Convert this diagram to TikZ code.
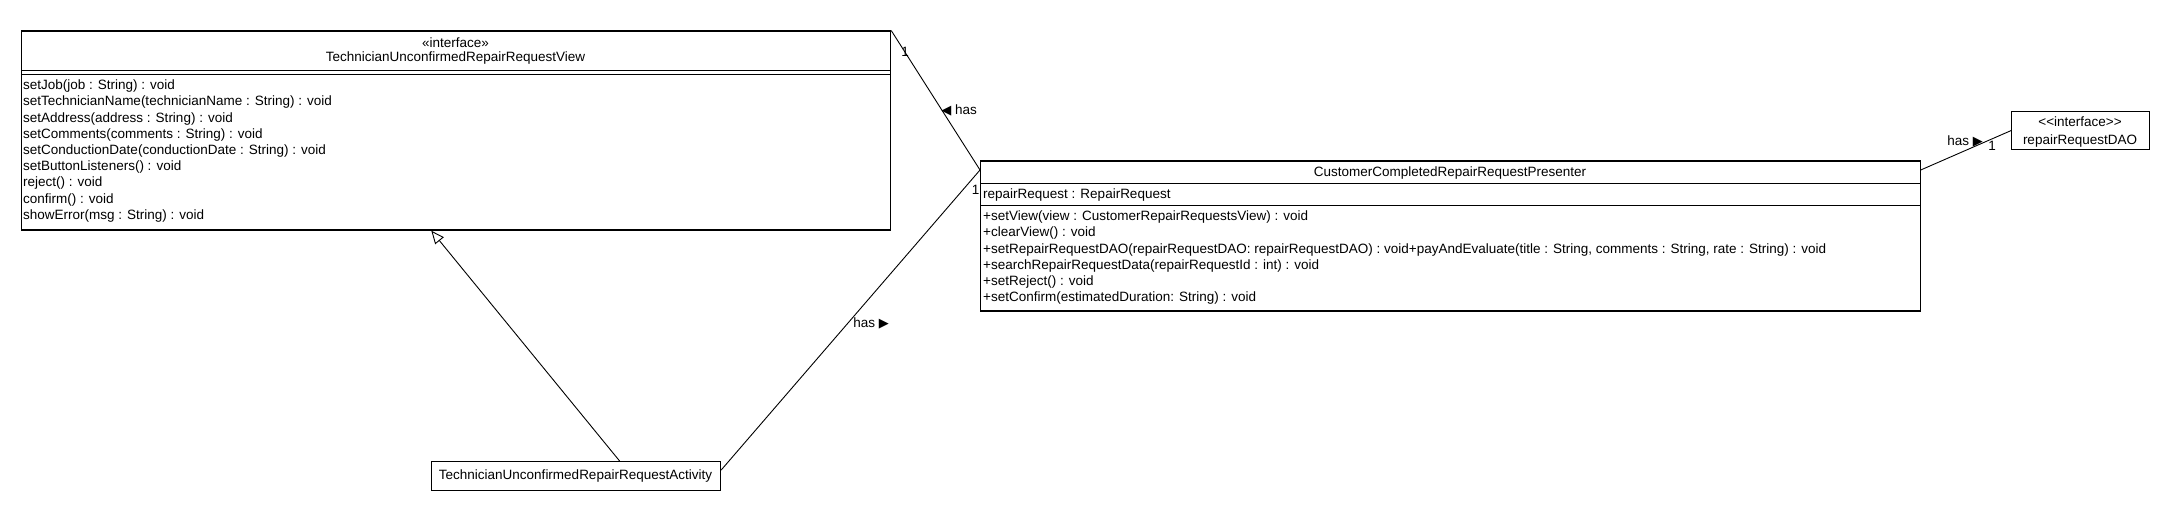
\documentclass[tikz,border=0pt]{standalone}
\usepackage{fontspec}
\setmainfont{Liberation Sans}
\newfontfamily\symfont{DejaVu Sans}
\usetikzlibrary{positioning}
\usetikzlibrary{arrows.meta}

\tikzset{
	classbox/.style={draw, line width=1.2pt, rectangle, inner sep=0pt, anchor=north west},
	umltext/.style={font=\fontsize{13.5}{16.2}\selectfont, inner sep=0pt},
	optext/.style={umltext, align=left, anchor=north west},
	assoc/.style={line width=0.9pt},
	inherit/.style={line width=0.9pt, -{Triangle[open, length=13pt, width=11pt]}},
}
\newcommand{\hasright}{{\symfont\fontsize{13}{13}\selectfont ▶}}
\newcommand{\hasleft}{{\symfont\fontsize{13}{13}\selectfont ◀}}

\begin{document}
\begin{tikzpicture}[x=1pt, y=-1pt]
	
	% whole page, one unit = one pixel of the screenshot
	\useasboundingbox (0,0) rectangle (2170,510);
	
	% class boxes, placed by their top left corner
	\node[classbox, minimum width=869pt, minimum height=199pt] (view) at (21,30.5) {};
	\node[classbox, minimum width=939.5pt, minimum height=150pt] (pres) at (980,160.5) {};
	\node[classbox, minimum width=289pt, minimum height=28.5pt] (act) at (431,461) {};
	\node[classbox, minimum width=138pt, minimum height=38.6pt] (dao) at (2011,110.7) {};
	
	% compartments
	\draw[line width=1.2pt] ([yshift=-40pt]view.north west) -- ([yshift=-40pt]view.north east);
	\draw[line width=1.2pt] ([yshift=-44pt]view.north west) -- ([yshift=-44pt]view.north east);
	\draw[line width=1.2pt] ([yshift=-23pt]pres.north west) -- ([yshift=-23pt]pres.north east);
	\draw[line width=1.2pt] ([yshift=-45pt]pres.north west) -- ([yshift=-45pt]pres.north east);
	
	%%%%%%%%%%%%%%%%%%%%%%%%%%%%%%%%%%%%%%%%%%%%%%%%%%%%%%%%%%%%%%
	% view interface
	\node[umltext, anchor=base] (viewStereo) at (455.5,47.5) {«interface»};
	\node[umltext, anchor=base] (viewName) at (455.5,61.5) {TechnicianUnconfirmedRepairRequestView};
	\node[optext] (viewOps) at (23,79.8) {setJob(job : String) : void\\
		setTechnicianName(technicianName : String) : void\\
		setAddress(address : String) : void\\
		setComments(comments : String) : void\\
		setConductionDate(conductionDate : String) : void\\
		setButtonListeners() : void\\
		reject() : void\\
		confirm() : void\\
		showError(msg : String) : void};
	
	% presenter
	\node[umltext, anchor=base] (presName) at (1450,176.5) {CustomerCompletedRepairRequestPresenter};
	\node[umltext, anchor=base west] (presAttr) at (983,198.5) {repairRequest : RepairRequest};
	\node[optext] (presOps) at (983,210.8) {+setView(view : CustomerRepairRequestsView) : void\\
		+clearView() : void\\
		+setRepairRequestDAO(repairRequestDAO: repairRequestDAO) : void+payAndEvaluate(title : String, comments : String, rate : String) : void\\
		+searchRepairRequestData(repairRequestId : int) : void\\
		+setReject() : void\\
		+setConfirm(estimatedDuration: String) : void};
	
	% activity and dao
	\node[umltext, anchor=base] (actName) at (575.5,479) {TechnicianUnconfirmedRepairRequestActivity};
	\node[umltext, anchor=base] (daoStereo) at (2080,126.8) {<\kern0pt<interface>\kern0pt>};
	\node[umltext, anchor=base] (daoName) at (2080,144.2) {repairRequestDAO};
	
	%%%%%%%%%%%%%%%%%%%%%%%%%%%%%%%%%%%%%%%%%%%%%%%%%%%%%%%%%%%%%%
	% connectors
	\draw[inherit] ([xshift=43.5pt]act.north) -- ([xshift=-24.8pt]view.south);
	\draw[assoc] (view.north east) -- ([yshift=-9.5pt]pres.north west);
	\draw[assoc] ([yshift=-9pt]act.north east) -- ([yshift=-9.5pt]pres.north west);
	\draw[assoc] ([yshift=-9.5pt]pres.north east) -- (dao.west);
	
	% labels on the connectors
	\node[umltext] (multViewA) at (905,52) {1};
	\node[umltext] (hasView) at (959,110) {\hasleft{} has};
	\node[umltext] (multViewB) at (975.5,190) {1};
	\node[umltext] (hasAct) at (871,323) {has \hasright};
	\node[umltext] (hasDao) at (1965,141.7) {has \hasright};
	\node[umltext] (multDao) at (1992,146) {1};
	
\end{tikzpicture}
\end{document}
